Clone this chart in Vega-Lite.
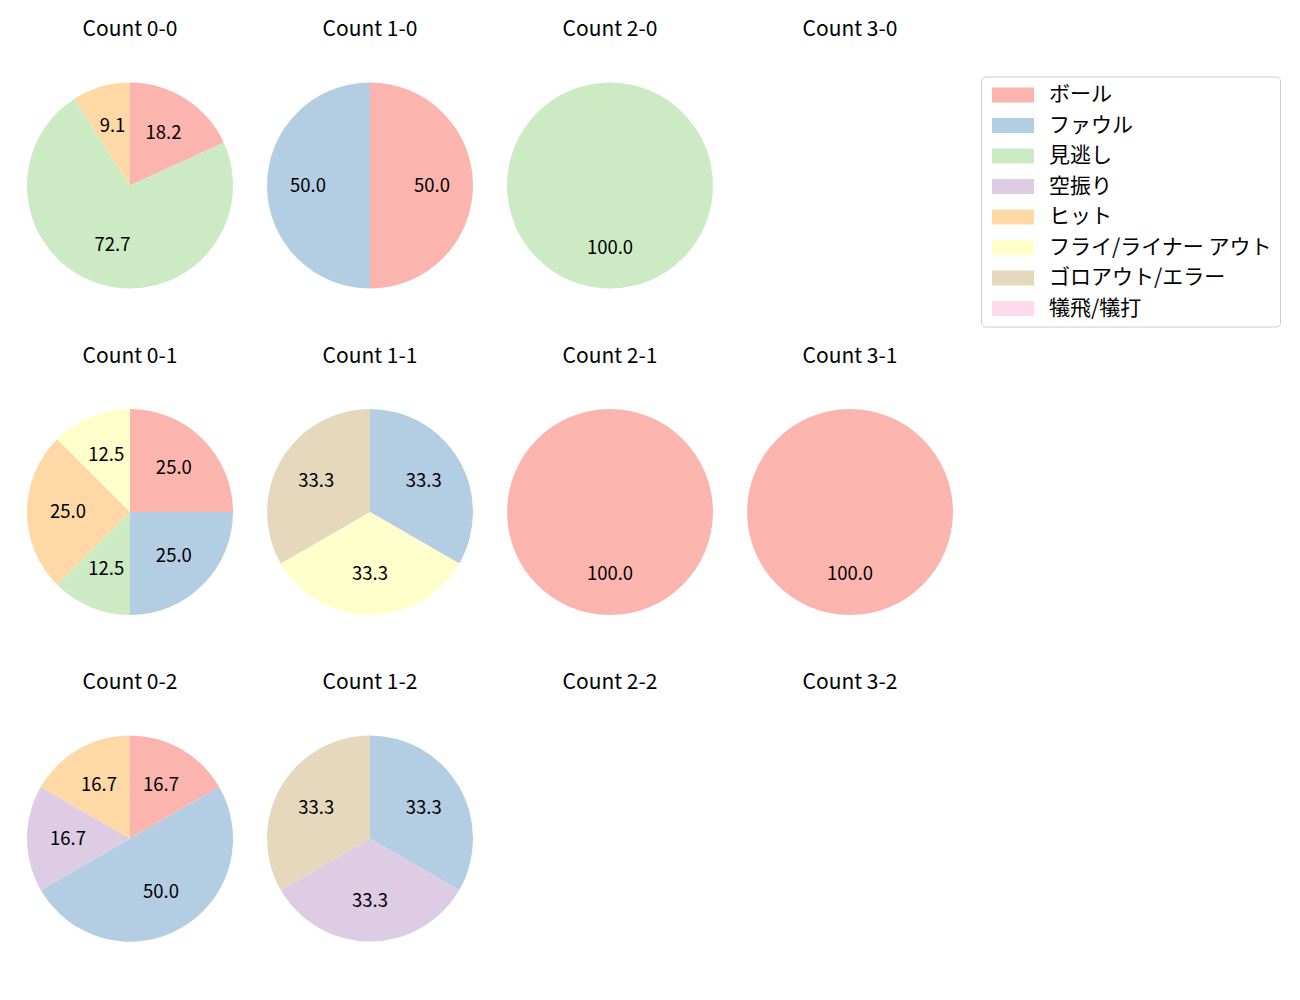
{
  "$schema": "https://vega.github.io/schema/vega-lite/v6.json",
  "padding": {"left": 20, "top": 18.5, "right": 0, "bottom": 0},
  "background": "white",
  "data": {"values": [
    {"count": "0-0", "result": "ボール", "idx": 0, "pct": 18.2},
    {"count": "0-0", "result": "見逃し", "idx": 2, "pct": 72.7},
    {"count": "0-0", "result": "ヒット", "idx": 4, "pct": 9.1},
    {"count": "1-0", "result": "ボール", "idx": 0, "pct": 50.0},
    {"count": "1-0", "result": "ファウル", "idx": 1, "pct": 50.0},
    {"count": "2-0", "result": "見逃し", "idx": 2, "pct": 100.0},
    {"count": "0-1", "result": "ボール", "idx": 0, "pct": 25.0},
    {"count": "0-1", "result": "ファウル", "idx": 1, "pct": 25.0},
    {"count": "0-1", "result": "見逃し", "idx": 2, "pct": 12.5},
    {"count": "0-1", "result": "ヒット", "idx": 4, "pct": 25.0},
    {"count": "0-1", "result": "フライ/ライナー アウト", "idx": 5, "pct": 12.5},
    {"count": "1-1", "result": "ファウル", "idx": 1, "pct": 33.3},
    {"count": "1-1", "result": "フライ/ライナー アウト", "idx": 5, "pct": 33.3},
    {"count": "1-1", "result": "ゴロアウト/エラー", "idx": 6, "pct": 33.3},
    {"count": "2-1", "result": "ボール", "idx": 0, "pct": 100.0},
    {"count": "3-1", "result": "ボール", "idx": 0, "pct": 100.0},
    {"count": "0-2", "result": "ボール", "idx": 0, "pct": 16.7},
    {"count": "0-2", "result": "ファウル", "idx": 1, "pct": 50.0},
    {"count": "0-2", "result": "空振り", "idx": 3, "pct": 16.7},
    {"count": "0-2", "result": "ヒット", "idx": 4, "pct": 16.7},
    {"count": "1-2", "result": "ファウル", "idx": 1, "pct": 33.3},
    {"count": "1-2", "result": "空振り", "idx": 3, "pct": 33.3},
    {"count": "1-2", "result": "ゴロアウト/エラー", "idx": 6, "pct": 33.3}
  ]},
  "columns": 4,
  "spacing": {"row": 39.5, "column": 20},
  "resolve": {"scale": {"theta": "independent"}},
  "concat": [
    {"title": "Count 0-0", "width": 220, "height": 240, "transform": [{"filter": "datum.count == '0-0'"}],
     "encoding": {"theta": {"field": "pct", "type": "quantitative", "stack": true}, "order": {"field": "idx", "type": "quantitative"}},
     "layer": [
       {"mark": {"type": "arc", "outerRadius": 103}, "encoding": {"color": {"field": "result", "type": "nominal", "scale": {"domain": ["ボール", "ファウル", "見逃し", "空振り", "ヒット", "フライ/ライナー アウト", "ゴロアウト/エラー", "犠飛/犠打"], "range": ["#fbb4ae", "#b3cde3", "#ccebc5", "#decbe4", "#fed9a6", "#ffffcc", "#e5d8bd", "#fddaec"]}}}},
       {"mark": {"type": "text", "radius": 62, "fontSize": 18.5, "font": "Noto Sans CJK JP", "color": "black"}, "encoding": {"text": {"field": "pct", "type": "quantitative", "format": ".1f"}}}
     ]},
    {"title": "Count 1-0", "width": 220, "height": 240, "transform": [{"filter": "datum.count == '1-0'"}],
     "encoding": {"theta": {"field": "pct", "type": "quantitative", "stack": true}, "order": {"field": "idx", "type": "quantitative"}},
     "layer": [
       {"mark": {"type": "arc", "outerRadius": 103}, "encoding": {"color": {"field": "result", "type": "nominal"}}},
       {"mark": {"type": "text", "radius": 62, "fontSize": 18.5, "font": "Noto Sans CJK JP", "color": "black"}, "encoding": {"text": {"field": "pct", "type": "quantitative", "format": ".1f"}}}
     ]},
    {"title": "Count 2-0", "width": 220, "height": 240, "transform": [{"filter": "datum.count == '2-0'"}],
     "encoding": {"theta": {"field": "pct", "type": "quantitative", "stack": true}, "order": {"field": "idx", "type": "quantitative"}},
     "layer": [
       {"mark": {"type": "arc", "outerRadius": 103}, "encoding": {"color": {"field": "result", "type": "nominal"}}},
       {"mark": {"type": "text", "radius": 62, "fontSize": 18.5, "font": "Noto Sans CJK JP", "color": "black"}, "encoding": {"text": {"field": "pct", "type": "quantitative", "format": ".1f"}}}
     ]},
    {"title": "Count 3-0", "width": 220, "height": 240, "transform": [{"filter": "datum.count == '3-0'"}],
     "encoding": {"theta": {"field": "pct", "type": "quantitative", "stack": true}, "order": {"field": "idx", "type": "quantitative"}},
     "layer": [
       {"mark": {"type": "arc", "outerRadius": 103}, "encoding": {"color": {"field": "result", "type": "nominal"}}}
     ]},
    {"title": "Count 0-1", "width": 220, "height": 240, "transform": [{"filter": "datum.count == '0-1'"}],
     "encoding": {"theta": {"field": "pct", "type": "quantitative", "stack": true}, "order": {"field": "idx", "type": "quantitative"}},
     "layer": [
       {"mark": {"type": "arc", "outerRadius": 103}, "encoding": {"color": {"field": "result", "type": "nominal"}}},
       {"mark": {"type": "text", "radius": 62, "fontSize": 18.5, "font": "Noto Sans CJK JP", "color": "black"}, "encoding": {"text": {"field": "pct", "type": "quantitative", "format": ".1f"}}}
     ]},
    {"title": "Count 1-1", "width": 220, "height": 240, "transform": [{"filter": "datum.count == '1-1'"}],
     "encoding": {"theta": {"field": "pct", "type": "quantitative", "stack": true}, "order": {"field": "idx", "type": "quantitative"}},
     "layer": [
       {"mark": {"type": "arc", "outerRadius": 103}, "encoding": {"color": {"field": "result", "type": "nominal"}}},
       {"mark": {"type": "text", "radius": 62, "fontSize": 18.5, "font": "Noto Sans CJK JP", "color": "black"}, "encoding": {"text": {"field": "pct", "type": "quantitative", "format": ".1f"}}}
     ]},
    {"title": "Count 2-1", "width": 220, "height": 240, "transform": [{"filter": "datum.count == '2-1'"}],
     "encoding": {"theta": {"field": "pct", "type": "quantitative", "stack": true}, "order": {"field": "idx", "type": "quantitative"}},
     "layer": [
       {"mark": {"type": "arc", "outerRadius": 103}, "encoding": {"color": {"field": "result", "type": "nominal"}}},
       {"mark": {"type": "text", "radius": 62, "fontSize": 18.5, "font": "Noto Sans CJK JP", "color": "black"}, "encoding": {"text": {"field": "pct", "type": "quantitative", "format": ".1f"}}}
     ]},
    {"title": "Count 3-1", "width": 220, "height": 240, "transform": [{"filter": "datum.count == '3-1'"}],
     "encoding": {"theta": {"field": "pct", "type": "quantitative", "stack": true}, "order": {"field": "idx", "type": "quantitative"}},
     "layer": [
       {"mark": {"type": "arc", "outerRadius": 103}, "encoding": {"color": {"field": "result", "type": "nominal"}}},
       {"mark": {"type": "text", "radius": 62, "fontSize": 18.5, "font": "Noto Sans CJK JP", "color": "black"}, "encoding": {"text": {"field": "pct", "type": "quantitative", "format": ".1f"}}}
     ]},
    {"title": "Count 0-2", "width": 220, "height": 240, "transform": [{"filter": "datum.count == '0-2'"}],
     "encoding": {"theta": {"field": "pct", "type": "quantitative", "stack": true}, "order": {"field": "idx", "type": "quantitative"}},
     "layer": [
       {"mark": {"type": "arc", "outerRadius": 103}, "encoding": {"color": {"field": "result", "type": "nominal"}}},
       {"mark": {"type": "text", "radius": 62, "fontSize": 18.5, "font": "Noto Sans CJK JP", "color": "black"}, "encoding": {"text": {"field": "pct", "type": "quantitative", "format": ".1f"}}}
     ]},
    {"title": "Count 1-2", "width": 220, "height": 240, "transform": [{"filter": "datum.count == '1-2'"}],
     "encoding": {"theta": {"field": "pct", "type": "quantitative", "stack": true}, "order": {"field": "idx", "type": "quantitative"}},
     "layer": [
       {"mark": {"type": "arc", "outerRadius": 103}, "encoding": {"color": {"field": "result", "type": "nominal"}}},
       {"mark": {"type": "text", "radius": 62, "fontSize": 18.5, "font": "Noto Sans CJK JP", "color": "black"}, "encoding": {"text": {"field": "pct", "type": "quantitative", "format": ".1f"}}}
     ]},
    {"title": "Count 2-2", "width": 220, "height": 240, "transform": [{"filter": "datum.count == '2-2'"}],
     "encoding": {"theta": {"field": "pct", "type": "quantitative", "stack": true}, "order": {"field": "idx", "type": "quantitative"}},
     "layer": [
       {"mark": {"type": "arc", "outerRadius": 103}, "encoding": {"color": {"field": "result", "type": "nominal"}}}
     ]},
    {"title": "Count 3-2", "width": 220, "height": 240, "transform": [{"filter": "datum.count == '3-2'"}],
     "encoding": {"theta": {"field": "pct", "type": "quantitative", "stack": true}, "order": {"field": "idx", "type": "quantitative"}},
     "layer": [
       {"mark": {"type": "arc", "outerRadius": 103}, "encoding": {"color": {"field": "result", "type": "nominal"}}}
     ]}
  ],
  "config": {
    "view": {"stroke": null},
    "font": "Noto Sans CJK JP",
    "title": {"fontSize": 21, "fontWeight": "normal", "color": "black", "font": "Noto Sans CJK JP", "offset": 25.5},
    "legend": {
      "orient": "none", "legendX": 961, "legendY": 11,
      "title": null,
      "symbolType": "M-1,-1 L4.6,-1 L4.6,1 L-1,1 Z",
      "symbolSize": 225, "symbolStrokeWidth": 0,
      "labelFontSize": 21, "labelFont": "Noto Sans CJK JP", "labelColor": "black", "labelLimit": 400,
      "labelOffset": 39, "rowPadding": 8.5,
      "padding": 8, "strokeColor": "#cccccc", "fillColor": "white", "cornerRadius": 4
    }
  }
}
